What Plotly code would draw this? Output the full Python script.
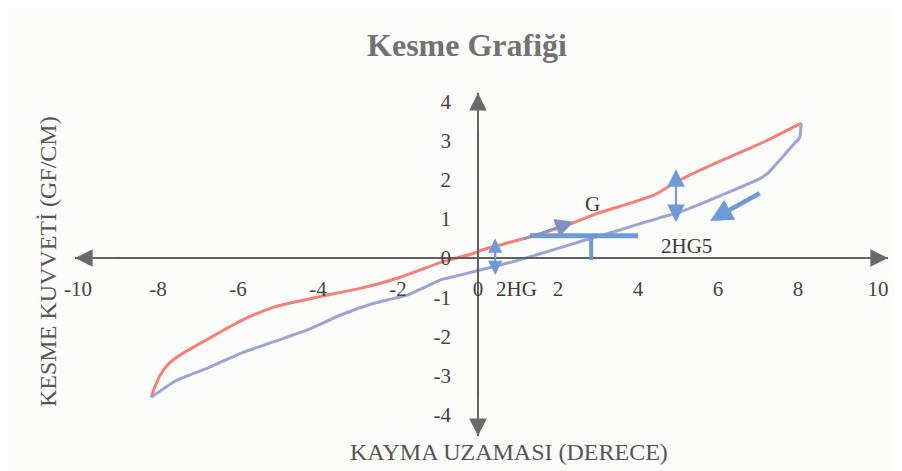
import plotly.graph_objects as go

# Loading curve (red) – shear strain (deg) vs shear force (gf/cm)
red_x = [-8.17, -8.08, -7.95, -7.75, -7.4, -6.75, -5.92, -5.08, -3.92, -2.92, -2.0, -1.33, -0.83, -0.08,
         0.08, 1.33, 2.25, 3.0, 3.83, 4.42, 4.92, 5.5, 6.33, 7.17, 8.08]
red_y = [-3.56, -3.3, -3.0, -2.72, -2.45, -2.07, -1.6, -1.25, -0.98, -0.77, -0.51, -0.26, -0.08, 0.13,
         0.2, 0.55, 0.85, 1.15, 1.41, 1.62, 1.92, 2.22, 2.6, 2.98, 3.45]

# Return curve (blue)
blue_x = [8.08, 8.04, 7.92, 7.25, 7.08, 6.33, 5.08, 4.25, 3.42, 2.58, 1.75, 0.92, 0.08, -0.75,
          -0.92, -1.75, -2.58, -3.42, -4.25, -5.08, -5.92, -6.75, -7.58, -8.17]
blue_y = [3.45, 3.07, 2.94, 2.17, 2.05, 1.71, 1.19, 0.94, 0.68, 0.43, 0.17, -0.08, -0.3, -0.51,
          -0.55, -0.94, -1.15, -1.45, -1.83, -2.13, -2.43, -2.81, -3.15, -3.56]

x_ticks = [-10, -8, -6, -4, -2, 0, 2, 4, 6, 8, 10]
x_tick_text = ["-10", "-8", "-6", "-4", "-2", "0", "2", "4", "6", "8", "10"]
y_ticks = [-4, -3, -2, -1, 0, 1, 2, 3, 4]
y_tick_text = ["-4", "-3", "-2", "-1", "0", "1", "2", "3", "4"]

title_text = "Kesme Grafiği"
x_title = "KAYMA UZAMASI (DERECE)"
y_title = "KESME KUVVETİ (GF/CM)"
labels = [("G", 2.87, 1.38), ("2HG5", 5.2, 0.3), ("2HG", 0.95, -0.8)]

XR = [-10.075, 10.25]
YR = [-4.55, 4.22]
x0_paper = (0 - XR[0]) / (XR[1] - XR[0])
y0_paper = (0 - YR[0]) / (YR[1] - YR[0])

AX = "#5f5f5f"
SERIF = "Liberation Serif, Times New Roman, serif"
ARR = "#6e9bd8"

fig = go.Figure()
fig.add_trace(go.Scatter(x=red_x, y=red_y, mode="lines", line=dict(color="#f5807a", width=3, shape="spline", smoothing=0.6),
                         showlegend=False, hoverinfo="skip"))
fig.add_trace(go.Scatter(x=blue_x, y=blue_y, mode="lines", line=dict(color="#9ca4d3", width=3, shape="spline", smoothing=0.4),
                         showlegend=False, hoverinfo="skip"))

ann = []
# axis arrowheads
for (hx, hy, tx, ty) in [(XR[1], 0, XR[1] - 1, 0), (XR[0], 0, XR[0] + 1, 0), (0, YR[1], 0, YR[1] - 1), (0, YR[0], 0, YR[0] + 1)]:
    ann.append(dict(x=hx, y=hy, ax=tx, ay=ty, xref="x", yref="y", axref="x", ayref="y", text="",
                    showarrow=True, arrowhead=2, arrowsize=2.2, arrowwidth=1.6, arrowcolor="#6a6a6a"))

# blue annotation arrows
ann.append(dict(x=0.43, y=0.5, ax=0.43, ay=-0.47, xref="x", yref="y", axref="x", ayref="y", text="",
                showarrow=True, arrowhead=2, arrowside="end+start", arrowsize=1.3, arrowwidth=2.2, arrowcolor=ARR))
ann.append(dict(x=4.95, y=2.27, ax=4.95, ay=0.88, xref="x", yref="y", axref="x", ayref="y", text="",
                showarrow=True, arrowhead=2, arrowside="end+start", arrowsize=1.6, arrowwidth=2.2, arrowcolor=ARR))
ann.append(dict(x=2.4, y=0.93, ax=1.1, ay=0.47, xref="x", yref="y", axref="x", ayref="y", text="",
                showarrow=True, arrowhead=2, arrowsize=1.7, arrowwidth=2.2, arrowcolor="#7e93c0"))
ann.append(dict(x=5.8, y=0.95, ax=7.08, ay=1.68, xref="x", yref="y", axref="x", ayref="y", text="",
                showarrow=True, arrowhead=2, arrowsize=1.0, arrowwidth=4.5, arrowcolor=ARR))

for t, lx, ly in labels:
    ann.append(dict(x=lx, y=ly, xref="x", yref="y", text=t, showarrow=False,
                    font=dict(family=SERIF, size=21, color="#3a3a3a")))

ann.append(dict(x=(501 - 67) / 813, y=0, xref="paper", yref="paper", yshift=-16, text=x_title, showarrow=False,
                font=dict(family=SERIF, size=24, color="#555555"), yanchor="middle"))
ann.append(dict(x=(40 - 67) / 813, y=(428 - 254) / 343, xref="paper", yref="paper", text=y_title, showarrow=False,
                textangle=-90, font=dict(family=SERIF, size=24, color="#555555"), xanchor="center", yanchor="middle"))

shapes = [
    dict(type="line", x0=1.3, x1=4.0, y0=0.57, y1=0.57, xref="x", yref="y", line=dict(color=ARR, width=5)),
    dict(type="line", x0=2.83, x1=2.83, y0=0.57, y1=-0.05, xref="x", yref="y", line=dict(color=ARR, width=4)),
]

fig.update_layout(
    width=902, height=471,
    margin=dict(l=67, r=22, t=85, b=43),
    paper_bgcolor="#fcfcfa", plot_bgcolor="#fcfcfa",
    title=dict(text="<b>" + title_text + "</b>", x=459 / 902, xref="container", xanchor="center",
               y=1 - 37 / 471, yref="container", yanchor="middle",
               font=dict(family=SERIF, size=32, color="#727272")),
    xaxis=dict(range=XR, anchor="free", position=y0_paper, showline=True, linecolor=AX, linewidth=1.6,
               showgrid=False, zeroline=False, tickvals=x_ticks, ticktext=x_tick_text, ticks="", ticklabelstandoff=12,
               tickfont=dict(family=SERIF, size=21, color="#444444")),
    yaxis=dict(range=YR, anchor="free", position=x0_paper, showline=True, linecolor=AX, linewidth=1.6,
               showgrid=False, zeroline=False, tickvals=y_ticks, ticktext=y_tick_text, ticks="", ticklabelstandoff=22,
               tickfont=dict(family=SERIF, size=21, color="#444444")),
    annotations=ann,
    shapes=shapes,
)

fig.write_html("out.html")
